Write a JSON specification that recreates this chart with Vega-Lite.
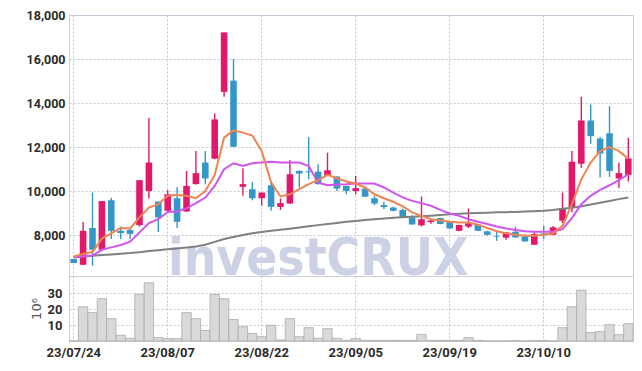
{
  "$schema": "https://vega.github.io/schema/vega-lite/v6.json",
  "padding": {"left": 25, "top": 8, "right": 6, "bottom": 4},
  "background": "white",
  "spacing": 0,
  "bounds": "flush",
  "config": {
    "view": {"stroke": "#cfcfdb", "strokeWidth": 1},
    "concat": {"spacing": 0},
    "axis": {
      "labelFont": "Roboto, 'DejaVu Sans Condensed', sans-serif",
      "labelFontWeight": "bold",
      "labelFontSize": 13,
      "labelColor": "#2b2b2b",
      "gridColor": "#c4c4d8",
      "gridDash": [2, 2],
      "gridWidth": 1,
      "ticks": false,
      "domain": false
    }
  },
  "datasets": {
    "p": [
      {"d": "23/07/24", "o": 6920, "h": 6920, "l": 6740, "c": 6740, "v": 0, "m5": 7040, "m20": 7000, "m60": 6990},
      {"d": "23/07/25", "o": 6660, "h": 8600, "l": 6650, "c": 8200, "v": 21.6, "m5": 7150, "m20": 7045, "m60": 7030},
      {"d": "23/07/26", "o": 8330, "h": 9940, "l": 6620, "c": 7340, "v": 17.9, "m5": 7250, "m20": 7080, "m60": 7070},
      {"d": "23/07/27", "o": 7340, "h": 9550, "l": 7300, "c": 9550, "v": 26.7, "m5": 7850, "m20": 7340, "m60": 7100},
      {"d": "23/07/28", "o": 9590, "h": 9700, "l": 7830, "c": 8200, "v": 14.1, "m5": 8090, "m20": 7450, "m60": 7130},
      {"d": "23/07/31", "o": 8200, "h": 8400, "l": 7830, "c": 8100, "v": 3.6, "m5": 8330, "m20": 7560, "m60": 7160},
      {"d": "23/08/01", "o": 8240, "h": 8280, "l": 7830, "c": 8060, "v": 1.7, "m5": 8310, "m20": 7710, "m60": 7190},
      {"d": "23/08/02", "o": 8460, "h": 10500, "l": 8400, "c": 10500, "v": 29.4, "m5": 8810, "m20": 8130, "m60": 7230},
      {"d": "23/08/03", "o": 10010, "h": 13330, "l": 9670, "c": 11300, "v": 36.7, "m5": 9260, "m20": 8550, "m60": 7280},
      {"d": "23/08/04", "o": 9530, "h": 9530, "l": 8150, "c": 8810, "v": 2.1, "m5": 9410, "m20": 8730, "m60": 7320},
      {"d": "23/08/07", "o": 9110, "h": 10060, "l": 9100, "c": 9860, "v": 1.5, "m5": 9790, "m20": 9060, "m60": 7360},
      {"d": "23/08/08", "o": 9680, "h": 10180, "l": 8330, "c": 8610, "v": 1.5, "m5": 9830, "m20": 9080, "m60": 7400},
      {"d": "23/08/09", "o": 9080, "h": 10920, "l": 9050, "c": 10240, "v": 17.9, "m5": 9790, "m20": 9220, "m60": 7440},
      {"d": "23/08/10", "o": 10320, "h": 11820, "l": 10300, "c": 10820, "v": 14.1, "m5": 9680, "m20": 9460, "m60": 7490},
      {"d": "23/08/11", "o": 11300, "h": 11820, "l": 10320, "c": 10580, "v": 6.7, "m5": 10010, "m20": 9710, "m60": 7570},
      {"d": "23/08/14", "o": 11480, "h": 13530, "l": 11450, "c": 13260, "v": 29.4, "m5": 10740, "m20": 10240, "m60": 7700},
      {"d": "23/08/16", "o": 14510, "h": 17210, "l": 14290, "c": 17210, "v": 26.7, "m5": 12430, "m20": 11000, "m60": 7830},
      {"d": "23/08/17", "o": 15020, "h": 16000, "l": 12000, "c": 12020, "v": 13.6, "m5": 12760, "m20": 11270, "m60": 7920},
      {"d": "23/08/18", "o": 10200, "h": 11040, "l": 9790, "c": 10320, "v": 9.0, "m5": 12660, "m20": 11150, "m60": 8010},
      {"d": "23/08/21", "o": 10090, "h": 10420, "l": 9590, "c": 9680, "v": 4.8, "m5": 12530, "m20": 11270, "m60": 8090},
      {"d": "23/08/22", "o": 9680, "h": 9940, "l": 9340, "c": 9940, "v": 2.7, "m5": 11820, "m20": 11300, "m60": 8150},
      {"d": "23/08/23", "o": 10270, "h": 10470, "l": 9110, "c": 9290, "v": 9.9, "m5": 10400, "m20": 11340, "m60": 8200},
      {"d": "23/08/24", "o": 9290, "h": 9670, "l": 9150, "c": 9460, "v": 0.7, "m5": 9760, "m20": 11300, "m60": 8250},
      {"d": "23/08/25", "o": 9440, "h": 11420, "l": 9420, "c": 10770, "v": 14.1, "m5": 9860, "m20": 11300, "m60": 8300},
      {"d": "23/08/28", "o": 10920, "h": 10950, "l": 10170, "c": 10800, "v": 2.7, "m5": 10090, "m20": 11300, "m60": 8355},
      {"d": "23/08/29", "o": 10900, "h": 12460, "l": 10540, "c": 10860, "v": 8.4, "m5": 10320, "m20": 11145, "m60": 8410},
      {"d": "23/08/30", "o": 10890, "h": 11220, "l": 10300, "c": 10320, "v": 1.7, "m5": 10500, "m20": 10390, "m60": 8460},
      {"d": "23/08/31", "o": 10690, "h": 11750, "l": 10680, "c": 10950, "v": 7.8, "m5": 10740, "m20": 10270, "m60": 8510},
      {"d": "23/09/01", "o": 10670, "h": 10670, "l": 10010, "c": 10120, "v": 1.7, "m5": 10590, "m20": 10300, "m60": 8560},
      {"d": "23/09/04", "o": 10240, "h": 10240, "l": 9860, "c": 10010, "v": 0.4, "m5": 10440, "m20": 10320, "m60": 8610},
      {"d": "23/09/05", "o": 10010, "h": 10690, "l": 9860, "c": 10140, "v": 1.5, "m5": 10350, "m20": 10350, "m60": 8650},
      {"d": "23/09/06", "o": 10120, "h": 10170, "l": 9740, "c": 9750, "v": 0.4, "m5": 10170, "m20": 10350, "m60": 8690},
      {"d": "23/09/07", "o": 9680, "h": 9790, "l": 9370, "c": 9440, "v": 0.4, "m5": 9860, "m20": 10350, "m60": 8730},
      {"d": "23/09/08", "o": 9370, "h": 9520, "l": 9190, "c": 9280, "v": 0.4, "m5": 9680, "m20": 10170, "m60": 8760},
      {"d": "23/09/11", "o": 9260, "h": 9300, "l": 9090, "c": 9110, "v": 0.4, "m5": 9520, "m20": 9940, "m60": 8790},
      {"d": "23/09/12", "o": 9150, "h": 9200, "l": 8790, "c": 8790, "v": 0.4, "m5": 9310, "m20": 9720, "m60": 8815},
      {"d": "23/09/13", "o": 8810, "h": 8910, "l": 8490, "c": 8490, "v": 0.4, "m5": 9040, "m20": 9560, "m60": 8840},
      {"d": "23/09/14", "o": 8450, "h": 9760, "l": 8400, "c": 8730, "v": 4.2, "m5": 8880, "m20": 9460, "m60": 8860},
      {"d": "23/09/15", "o": 8600, "h": 8740, "l": 8520, "c": 8670, "v": 0.4, "m5": 8730, "m20": 9340, "m60": 8890},
      {"d": "23/09/18", "o": 8780, "h": 8800, "l": 8500, "c": 8510, "v": 0.4, "m5": 8670, "m20": 9150, "m60": 8920},
      {"d": "23/09/19", "o": 8610, "h": 8650, "l": 8280, "c": 8310, "v": 0.4, "m5": 8610, "m20": 8990, "m60": 8950},
      {"d": "23/09/20", "o": 8200, "h": 8480, "l": 8180, "c": 8470, "v": 0.4, "m5": 8580, "m20": 8880, "m60": 8975},
      {"d": "23/09/21", "o": 8390, "h": 9220, "l": 8330, "c": 8540, "v": 2.1, "m5": 8580, "m20": 8730, "m60": 8995},
      {"d": "23/09/22", "o": 8490, "h": 8500, "l": 8190, "c": 8200, "v": 0.4, "m5": 8480, "m20": 8610, "m60": 9010},
      {"d": "23/09/25", "o": 8180, "h": 8200, "l": 7990, "c": 8020, "v": 0, "m5": 8330, "m20": 8510, "m60": 9025},
      {"d": "23/09/26", "o": 7950, "h": 8150, "l": 7750, "c": 7920, "v": 0, "m5": 8180, "m20": 8400, "m60": 9040},
      {"d": "23/09/27", "o": 7890, "h": 8130, "l": 7800, "c": 8130, "v": 0, "m5": 8090, "m20": 8310, "m60": 9050},
      {"d": "23/10/04", "o": 8160, "h": 8390, "l": 7890, "c": 7900, "v": 0.3, "m5": 8020, "m20": 8240, "m60": 9060},
      {"d": "23/10/05", "o": 7950, "h": 8050, "l": 7700, "c": 7720, "v": 0, "m5": 7980, "m20": 8180, "m60": 9075},
      {"d": "23/10/06", "o": 7570, "h": 8160, "l": 7560, "c": 8050, "v": 0.3, "m5": 7980, "m20": 8160, "m60": 9090},
      {"d": "23/10/10", "o": 8080, "h": 8430, "l": 7830, "c": 8000, "v": 0.3, "m5": 8020, "m20": 8160, "m60": 9110},
      {"d": "23/10/11", "o": 8020, "h": 8420, "l": 8000, "c": 8360, "v": 0, "m5": 8090, "m20": 8160, "m60": 9150},
      {"d": "23/10/12", "o": 8660, "h": 9940, "l": 8550, "c": 9230, "v": 8.4, "m5": 8430, "m20": 8280, "m60": 9200},
      {"d": "23/10/13", "o": 9260, "h": 11820, "l": 9040, "c": 11340, "v": 21.6, "m5": 9410, "m20": 8780, "m60": 9250},
      {"d": "23/10/16", "o": 11250, "h": 14290, "l": 11070, "c": 13210, "v": 32.1, "m5": 10540, "m20": 9410, "m60": 9320},
      {"d": "23/10/17", "o": 13210, "h": 13940, "l": 12160, "c": 12500, "v": 5.3, "m5": 11300, "m20": 9790, "m60": 9400},
      {"d": "23/10/18", "o": 12390, "h": 12460, "l": 10620, "c": 11710, "v": 5.9, "m5": 11820, "m20": 10060, "m60": 9480},
      {"d": "23/10/19", "o": 12630, "h": 13860, "l": 10650, "c": 10920, "v": 10.3, "m5": 12000, "m20": 10270, "m60": 9560},
      {"d": "23/10/20", "o": 10580, "h": 11300, "l": 10140, "c": 10820, "v": 4.0, "m5": 11820, "m20": 10500, "m60": 9640},
      {"d": "23/10/23", "o": 10740, "h": 12430, "l": 10440, "c": 11490, "v": 10.9, "m5": 11480, "m20": 10770, "m60": 9715}
    ]
  },
  "vconcat": [
    {
      "width": 564,
      "height": 261,
      "layer": [
        {
          "data": {"values": [{"t": "investCRUX"}]},
          "mark": {"type": "text", "clip": true, "font": "'DejaVu Sans Condensed', Roboto, sans-serif", "fontWeight": "bold", "fontSize": 51, "fill": "#ccd1e6", "align": "center", "baseline": "alphabetic"},
          "encoding": {
            "text": {"field": "t"},
            "x": {"datum": "23/08/30", "type": "ordinal", "scale": {"type": "band", "paddingInner": 0, "paddingOuter": 0}, "axis": {"labels": false, "title": null, "grid": true, "minExtent": 0, "maxExtent": 0, "labelPadding": 0, "values": ["23/07/24", "23/08/07", "23/08/22", "23/09/05", "23/09/19", "23/10/10"]}},
            "y": {"datum": 6180, "type": "quantitative"}
          }
        },
        {
          "data": {"name": "p"},
          "mark": {"type": "rule", "strokeWidth": 1.4},
          "encoding": {
            "x": {"field": "d", "type": "ordinal", "scale": {"type": "band", "paddingInner": 0, "paddingOuter": 0}},
            "y": {"field": "l", "type": "quantitative", "scale": {"domain": [6150, 18000], "nice": false, "zero": false}, "axis": {"title": null, "grid": true, "values": [8000, 10000, 12000, 14000, 16000, 18000], "format": ",d", "labelPadding": 4, "labelFontSize": 12.5, "minExtent": 41, "maxExtent": 41}},
            "y2": {"field": "h"},
            "color": {"condition": {"test": "datum.c >= datum.o", "value": "#e2196a"}, "value": "#3597c9"}
          }
        },
        {
          "data": {"name": "p"},
          "mark": {"type": "bar", "width": {"band": 0.7}},
          "encoding": {
            "x": {"field": "d", "type": "ordinal"},
            "y": {"field": "o", "type": "quantitative"},
            "y2": {"field": "c"},
            "color": {"condition": {"test": "datum.c >= datum.o", "value": "#e2196a"}, "value": "#3597c9"}
          }
        },
        {
          "data": {"name": "p"},
          "mark": {"type": "line", "stroke": "#808080", "strokeWidth": 2},
          "encoding": {"x": {"field": "d", "type": "ordinal"}, "y": {"field": "m60", "type": "quantitative"}}
        },
        {
          "data": {"name": "p"},
          "mark": {"type": "line", "stroke": "#cf55ee", "strokeWidth": 2},
          "encoding": {"x": {"field": "d", "type": "ordinal"}, "y": {"field": "m20", "type": "quantitative"}}
        },
        {
          "data": {"name": "p"},
          "mark": {"type": "line", "stroke": "#ef8450", "strokeWidth": 2},
          "encoding": {"x": {"field": "d", "type": "ordinal"}, "y": {"field": "m5", "type": "quantitative"}}
        }
      ]
    },
    {
      "width": 564,
      "height": 65,
      "data": {"name": "p"},
      "mark": {"type": "bar", "fill": "#d9d9d9", "stroke": "#ababab", "strokeWidth": 0.8},
      "encoding": {
        "x": {"field": "d", "type": "ordinal", "scale": {"type": "band", "paddingInner": 0, "paddingOuter": 0}, "axis": {"title": null, "grid": true, "labelAngle": 0, "labelPadding": 5, "labelFontSize": 13, "values": ["23/07/24", "23/08/07", "23/08/22", "23/09/05", "23/09/19", "23/10/10"]}},
        "y": {"field": "v", "type": "quantitative", "scale": {"domain": [0, 41], "nice": false}, "axis": {"title": "10⁶", "titleFont": "DejaVu Sans", "titleFontWeight": "normal", "titleFontSize": 13, "titleColor": "#555555", "titlePadding": 4, "values": [10, 20, 30], "grid": true, "labelFontSize": 13, "labelPadding": 7, "minExtent": 22, "maxExtent": 22}}
      }
    }
  ]
}
